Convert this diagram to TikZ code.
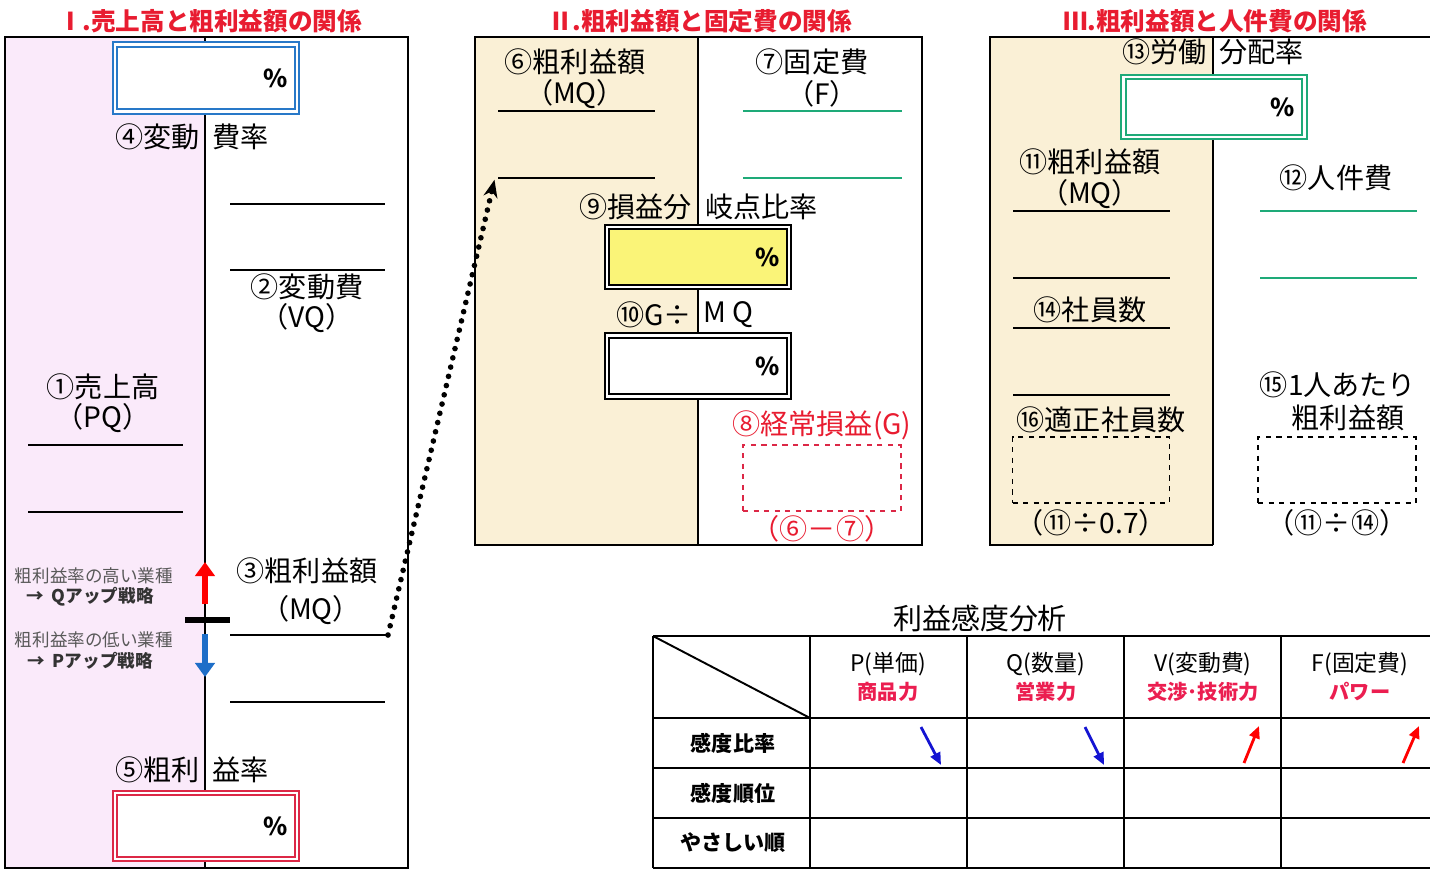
\documentclass[tikz,border=0pt]{standalone}
\usepackage{fontspec}
\setmainfont{Noto Sans CJK JP}
\usetikzlibrary{positioning,arrows.meta}

\definecolor{titlered}{RGB}{232,28,48}
\definecolor{pinkbg}{RGB}{250,234,250}
\definecolor{beigebg}{RGB}{250,240,214}
\definecolor{boxyellow}{RGB}{250,244,120}
\definecolor{boxblue}{RGB}{40,120,200}
\definecolor{boxred}{RGB}{220,40,70}
\definecolor{linegreen}{RGB}{30,170,120}
\definecolor{hdrred}{RGB}{235,30,80}
\definecolor{arrblue}{RGB}{30,110,200}
\definecolor{tblblue}{RGB}{20,20,210}

\tikzset{
	lbl/.style={font=\fontsize{16}{18}\selectfont, inner sep=0pt},
	ttl/.style={font=\fontsize{14}{16}\selectfont\bfseries, text=titlered, inner sep=0pt},
	note/.style={font=\fontsize{10}{12}\selectfont, text=black!65, inner sep=0pt},
	notebold/.style={font=\fontsize{10}{12}\selectfont\bfseries, text=black!80, inner sep=0pt},
	pct/.style={font=\fontsize{14}{16}\selectfont\bfseries, inner sep=0pt, anchor=east},
	dbox/.style={draw=#1, double=white, double distance=1.5pt, line width=1.1pt, inner sep=0pt},
	dashbox/.style={draw=#1, dashed, line width=0.9pt, inner sep=0pt},
	rule/.style={line width=0.9pt},
	hdr/.style={font=\fontsize{13}{15}\selectfont, inner sep=0pt},
	hdrsub/.style={font=\fontsize{11.5}{13}\selectfont\bfseries, text=hdrred, inner sep=0pt},
	rowlbl/.style={font=\fontsize{12}{14}\selectfont\bfseries, inner sep=0pt},
	grid/.style={line width=1.1pt}
}

\begin{document}
\begin{tikzpicture}[x=0.02cm, y=-0.02cm]
	\useasboundingbox (0,0) rectangle (1430,870);

	% Panels:
	\fill[pinkbg] (5,37) rectangle (205,868);
	\draw[line width=1pt] (5,37) rectangle (408,868);
	\draw[line width=0.9pt] (205,37) -- (205,868);

	\fill[beigebg] (475,37) rectangle (698,545);
	\draw[line width=1pt] (475,37) rectangle (922,545);
	\draw[line width=0.9pt] (698,37) -- (698,545);

	\fill[beigebg] (990,37) rectangle (1213,545);
	\draw[line width=1pt] (1430,37) -- (990,37) -- (990,545) -- (1213,545);
	\draw[line width=0.9pt] (1213,37) -- (1213,545);

	% Titles:
	\node[ttl] (t1) at (210,21) {Ⅰ.売上高と粗利益額の関係};
	\node[ttl] (t2) at (700,21) {Ⅱ.粗利益額と固定費の関係};
	\node[ttl] (t3) at (1215,21) {Ⅲ.粗利益額と人件費の関係};

	% Boxes:
	\node[dbox=boxblue, fill=white, minimum width=3.64cm, minimum height=1.34cm] (vcr) at (206,78) {};
	\node[pct] at ([xshift=-0.2cm]vcr.east) {\%};
	\node[dbox=boxred, fill=white, minimum width=3.64cm, minimum height=1.32cm] (gmr) at (206,826) {};
	\node[pct] at ([xshift=-0.2cm]gmr.east) {\%};
	\node[dbox=black, fill=boxyellow, minimum width=3.64cm, minimum height=1.2cm] (bep) at (698,257) {};
	\node[pct] at ([xshift=-0.2cm]bep.east) {\%};
	\node[dbox=black, fill=white, minimum width=3.64cm, minimum height=1.22cm] (gmq) at (698,366) {};
	\node[pct] at ([xshift=-0.2cm]gmq.east) {\%};
	\node[dbox=linegreen, fill=white, minimum width=3.62cm, minimum height=1.2cm] (lsr) at (1214,107) {};
	\node[pct] at ([xshift=-0.2cm]lsr.east) {\%};

	\node[dashbox=boxred, minimum width=3.16cm, minimum height=1.32cm] (ord) at (822,478) {};
	\node[dashbox=black, minimum width=3.14cm, minimum height=1.32cm] (fitn) at (1091,470) {};
	\node[dashbox=black, minimum width=3.16cm, minimum height=1.32cm] (perh) at (1337,470) {};

	% Lines:
	\draw[rule] (230,204) -- (385,204);
	\draw[rule] (230,270) -- (385,270);
	\draw[rule] (28,445) -- (183,445);
	\draw[rule] (28,512) -- (183,512);
	\draw[rule] (230,635) coordinate (mqend) -- (388,635) coordinate (mqtip);
	\draw[rule] (230,702) -- (385,702);

	\draw[rule] (498,111) -- (655,111);
	\draw[rule] (498,178) coordinate (mq2) -- (655,178);
	\draw[rule, linegreen] (743,111) -- (902,111);
	\draw[rule, linegreen] (743,178) -- (902,178);

	\draw[rule] (1013,211) -- (1170,211);
	\draw[rule] (1013,278) -- (1170,278);
	\draw[rule, linegreen] (1260,211) -- (1417,211);
	\draw[rule, linegreen] (1260,278) -- (1417,278);
	\draw[rule] (1013,328) -- (1170,328);
	\draw[rule] (1013,395) -- (1170,395);

	% Arrows:
	\coordinate (upA) at (205,604);
	\coordinate (upB) at (205,562);
	\coordinate (dnA) at (205,634);
	\coordinate (dnB) at (205,677);
	\draw[red, line width=3.5pt, -{Triangle[width=11pt,length=8pt]}] (upA) -- (upB);
	\draw[arrblue, line width=3.5pt, -{Triangle[width=11pt,length=8pt]}] (dnA) -- (dnB);
	\draw[line width=3pt] (185,620) -- (230,620);
	\draw[line width=3.2pt, line cap=round, dash pattern=on 0pt off 5.4pt, -{Stealth[length=10pt,width=8pt]}] (mqtip) -- ([xshift=-2pt,yshift=-1pt]mq2);

	% Labels I:
	\node[lbl, anchor=east] (l4a) at (200,137) {④変動};
	\node[lbl, anchor=west] (l4b) at (212,137) {費率};
	\node[lbl] (l2a) at (307,287) {②変動費};
	\node[lbl] (l2b) at (307,318) {（VQ）};
	\node[lbl] (l1a) at (103,387) {①売上高};
	\node[lbl] (l1b) at (103,418) {（PQ）};
	\node[lbl] (l3a) at (307,571) {③粗利益額};
	\node[lbl] (l3b) at (311,610) {（MQ）};
	\node[lbl, anchor=east] (l5a) at (200,770) {⑤粗利};
	\node[lbl, anchor=west] (l5b) at (212,770) {益率};
	\node[note] (nhi) at (94,576) {粗利益率の高い業種};
	\node[notebold] (qup) at (90,597) {→\ \ Qアップ戦略};
	\node[note] (nlo) at (94,640) {粗利益率の低い業種};
	\node[notebold] (pup) at (90,661) {→\ \ Pアップ戦略};

	% Labels II:
	\node[lbl] (l6a) at (575,62) {⑥粗利益額};
	\node[lbl] (l6b) at (575,94) {（MQ）};
	\node[lbl] (l7a) at (812,62) {⑦固定費};
	\node[lbl] (l7b) at (822,94) {（F）};
	\node[lbl, anchor=east] (l9a) at (692,207) {⑨損益分};
	\node[lbl, anchor=west] (l9b) at (705,207) {岐点比率};
	\node[lbl, anchor=east] (l10a) at (692,315) {⑩G÷};
	\node[lbl, anchor=west] (l10b) at (703,315) {M\ Q};
	\node[lbl, text=titlered, above=2pt of ord] (l8a) {⑧経常損益(G)};
	\node[lbl, text=titlered, below=2pt of ord] (l8b) {（⑥－⑦）};

	% Labels III:
	\node[lbl, anchor=east] (l13a) at (1207,52) {⑬労働};
	\node[lbl, anchor=west] (l13b) at (1219,52) {分配率};
	\node[lbl] (l11a) at (1090,162) {⑪粗利益額};
	\node[lbl] (l11b) at (1090,194) {（MQ）};
	\node[lbl] (l12) at (1336,178) {⑫人件費};
	\node[lbl] (l14) at (1090,310) {⑭社員数};
	\node[lbl] (l16) at (1101,420) {⑯適正社員数};
	\node[lbl, below=3pt of fitn] (l16b) {（⑪÷0.7）};
	\node[lbl] (l15a) at (1338,385) {⑮1人あたり};
	\node[lbl] (l15b) at (1348,418) {粗利益額};
	\node[lbl, below=3pt of perh] (l15c) {（⑪÷⑭）};

	% Table:
	\node[lbl, font=\fontsize{16.5}{18}\selectfont] (tbl) at (980,618) {利益感度分析};
	\foreach \y in {636,718,768,818,868}
		\draw[grid] (653,\y) -- (1430,\y);
	\foreach \x in {653,810,967,1124,1281}
		\draw[grid] (\x,636) -- (\x,868);
	\draw[grid] (653,636) -- (810,718);

	\node[hdr] (hp) at (888,664) {P(単価)};
	\node[hdrsub] (sp) at (888,692) {商品力};
	\node[hdr] (hq) at (1046,664) {Q(数量)};
	\node[hdrsub] (sq) at (1046,692) {営業力};
	\node[hdr] (hv) at (1203,664) {V(変動費)};
	\node[hdrsub] (sv) at (1203,692) {交渉･技術力};
	\node[hdr] (hf) at (1360,664) {F(固定費)};
	\node[hdrsub] (sf) at (1360,692) {パワー};

	\node[rowlbl] (r1) at (733,743) {感度比率};
	\node[rowlbl] (r2) at (733,793) {感度順位};
	\node[rowlbl] (r3) at (733,843) {やさしい順};

	\draw[tblblue, line width=1.6pt, -{Triangle[width=6pt,length=7pt]}] (921,727) -- (941,765);
	\draw[tblblue, line width=1.6pt, -{Triangle[width=6pt,length=7pt]}] (1085,727) -- (1104,765);
	\draw[red, line width=1.6pt, -{Triangle[width=6pt,length=7pt]}] (1244,763) -- (1259,726);
	\draw[red, line width=1.6pt, -{Triangle[width=6pt,length=7pt]}] (1403,763) -- (1419,726);
\end{tikzpicture}
\end{document}
